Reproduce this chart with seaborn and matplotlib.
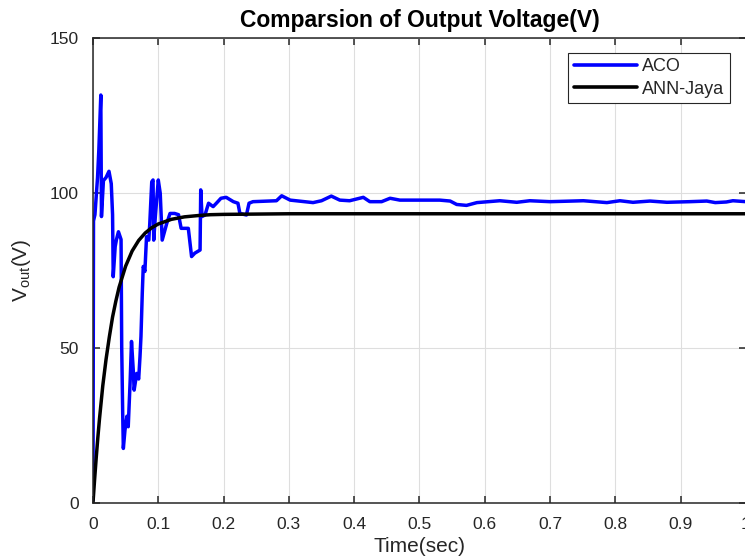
import seaborn as sns
import pandas as pd
import matplotlib.pyplot as plt

# ACO output voltage
aco_t = [0.0, 0.0002, 0.0008, 0.003, 0.007, 0.009, 0.012, 0.013, 0.016, 0.020,
         0.0245, 0.028, 0.030, 0.031, 0.034, 0.036, 0.039, 0.043, 0.044, 0.0455,
         0.0465, 0.049, 0.052, 0.054, 0.057, 0.059, 0.062, 0.063, 0.067, 0.070,
         0.072, 0.0735, 0.0755, 0.077, 0.0795, 0.082, 0.0855, 0.087, 0.090, 0.092,
         0.093, 0.0955, 0.100, 0.103, 0.106, 0.113, 0.118, 0.125, 0.131, 0.135,
         0.146, 0.151, 0.156, 0.164, 0.165, 0.167, 0.1715, 0.177, 0.184, 0.189,
         0.196, 0.204, 0.215, 0.222, 0.225, 0.235, 0.239, 0.245, 0.281, 0.289,
         0.302, 0.337, 0.350, 0.365, 0.378, 0.393, 0.414, 0.424, 0.442, 0.455,
         0.470, 0.531, 0.547, 0.557, 0.572, 0.588, 0.623, 0.649, 0.669, 0.700,
         0.751, 0.787, 0.807, 0.827, 0.853, 0.879, 0.914, 0.940, 0.953, 0.970,
         0.980, 1.0]
aco_v = [1, 19, 91, 93, 105, 114, 131.6, 92.4, 104, 105,
         107, 103, 93, 73, 82.7, 85, 87.5, 85, 50.4, 29,
         17.6, 23.5, 28, 24.6, 39.7, 52.1, 41.8, 36.4, 41.8, 40,
         47.2, 53.7, 67.7, 76.3, 74.7, 85.9, 84.8, 90.2, 103.6, 104.2,
         84.8, 92.4, 104.2, 99.9, 84.8, 90.2, 93.4, 93.4, 93, 88.6,
         88.6, 79.5, 80.6, 81.6, 101, 92.4, 92.9, 96.7, 95.6, 96.7,
         98.3, 98.6, 97.2, 96.7, 93.4, 92.9, 96.7, 97.2, 97.5, 99.1,
         97.7, 96.9, 97.5, 99.0, 97.7, 97.5, 98.6, 97.2, 97.2, 98.3,
         97.7, 97.7, 97.4, 96.3, 96.0, 96.9, 97.5, 97.0, 97.5, 97.2,
         97.5, 96.9, 97.5, 97.0, 97.4, 97.0, 97.2, 97.4, 96.9, 97.1,
         97.5, 97.2]

# ANN-Jaya output voltage
jaya_t = [0, 0.0025, 0.005, 0.0075, 0.01, 0.015, 0.02, 0.025, 0.03, 0.035,
          0.04, 0.05, 0.06, 0.07, 0.08, 0.09, 0.10, 0.12, 0.14, 0.16,
          0.18, 0.20, 0.25, 0.30, 1.0]
jaya_v = [0, 7.6, 14.7, 21.2, 27.2, 37.8, 46.3, 53.5, 60.0, 65.1,
          69.6, 76.4, 81.3, 84.7, 87.1, 88.8, 90.0, 91.5, 92.3, 92.7,
          93.0, 93.1, 93.2, 93.3, 93.3]

x_ticks = [0, 0.1, 0.2, 0.3, 0.4, 0.5, 0.6, 0.7, 0.8, 0.9, 1]
x_labels = ['0', '0.1', '0.2', '0.3', '0.4', '0.5', '0.6', '0.7', '0.8', '0.9', '1']
y_ticks = [0, 50, 100, 150]

df = pd.concat([
    pd.DataFrame({'Time': aco_t, 'Vout': aco_v, 'Method': 'ACO'}),
    pd.DataFrame({'Time': jaya_t, 'Vout': jaya_v, 'Method': 'ANN-Jaya'}),
], ignore_index=True)

sns.set_theme(style='ticks')
plt.rcParams['font.family'] = ['Liberation Sans', 'DejaVu Sans']
plt.rcParams['mathtext.fontset'] = 'custom'
plt.rcParams['mathtext.rm'] = 'Liberation Sans'

fig = plt.figure(figsize=(7.45, 5.58), dpi=100, facecolor='white')
ax = fig.add_axes([0.1248, 0.0986, 0.8765, 0.8333])

sns.lineplot(data=df, x='Time', y='Vout', hue='Method', estimator=None, sort=False,
             palette={'ACO': '#0000ff', 'ANN-Jaya': '#000000'},
             hue_order=['ACO', 'ANN-Jaya'], linewidth=2.5, ax=ax)

ax.set_xlim(0, 1)
ax.set_ylim(0, 150)
ax.set_xticks(x_ticks)
ax.set_xticklabels(x_labels)
ax.set_yticks(y_ticks)
ax.grid(True, color='#dedede', linewidth=0.8)
ax.set_axisbelow(True)
for s in ax.spines.values():
    s.set_visible(True)
    s.set_color('#262626')
    s.set_linewidth(1.1)
ax.tick_params(direction='in', length=5, width=1.1, top=True, right=True,
               labelsize=12.5, colors='#262626', pad=10)

ax.set_title('Comparsion of Output Voltage(V)', fontsize=16.5, fontweight='bold',
             color='black', pad=8)
ax.set_xlabel('Time(sec)', fontsize=15, color='#262626', labelpad=4)
ax.set_ylabel(r'V$_{\mathrm{out}}$(V)', fontsize=15, color='#262626', labelpad=12)

leg = ax.legend(loc='upper right', bbox_to_anchor=(0.9755, 0.968), borderaxespad=0,
                fontsize=13, handlelength=3.5, handletextpad=0.3, labelspacing=0.3,
                fancybox=False, framealpha=1, edgecolor='#262626', borderpad=0.3)
leg.get_frame().set_linewidth(0.8)
for line in leg.get_lines():
    line.set_linewidth(2.6)

fig.savefig('out.png', dpi=100, facecolor='white')
